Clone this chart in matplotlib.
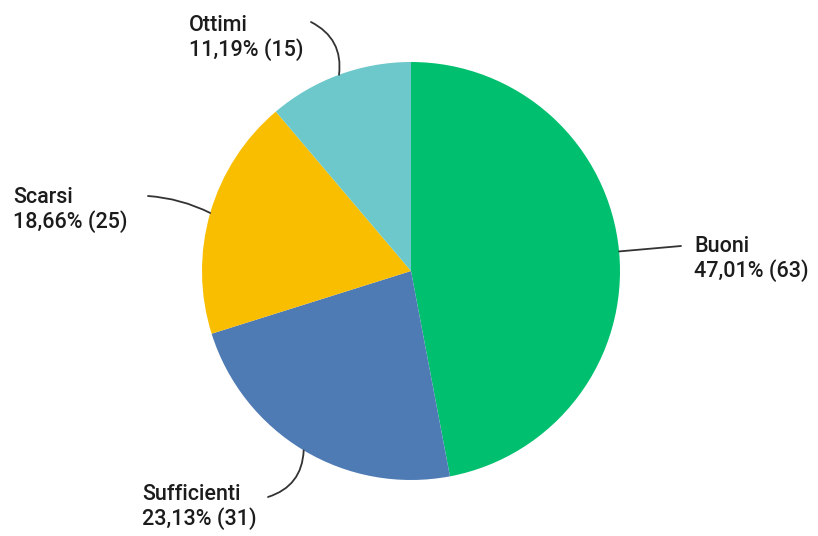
import numpy as np
import matplotlib
matplotlib.use("Agg")
import matplotlib.pyplot as plt
from matplotlib.patches import FancyArrowPatch

plt.rcParams['font.family'] = ['Roboto', 'DejaVu Sans']

# judgements and counts, clockwise from the top
labels = ["Buoni", "Sufficienti", "Scarsi", "Ottimi"]
counts = [63, 31, 25, 15]
colors = ["#00BF6F", "#4F7BB5", "#F9BE00", "#6CC8CB"]

W, H = 818, 536
cx, cy, R = 411, H - 271, 209

# where each label block starts (left edge, centre) and where its leader ends
label_pos = [(694, H - 259), (142, H - 507), (13, H - 210), (189, H - 38)]
line_end = [(681, H - 246), (268, H - 497), (148, H - 196), (311, H - 22)]
line_rad = [0.0, -0.35, 0.1, 0.35]

fig = plt.figure(figsize=(W / 100, H / 100), dpi=100)
ax = fig.add_axes([0, 0, 1, 1])

wedges, _ = ax.pie(counts, colors=colors, startangle=90, counterclock=False,
                   center=(cx, cy), radius=R, frame=True,
                   wedgeprops=dict(linewidth=0))

total = sum(counts)
for w, lab, n, pos, end, rad in zip(wedges, labels, counts, label_pos, line_end, line_rad):
    mid = np.deg2rad((w.theta1 + w.theta2) / 2)
    start = (cx + R * np.cos(mid), cy + R * np.sin(mid))
    ax.add_patch(FancyArrowPatch(start, end, arrowstyle='-', color='#333333',
                                 linewidth=1.3, shrinkA=0, shrinkB=0,
                                 connectionstyle=f"arc3,rad={rad}"))
    pct = f"{100 * n / total:.2f}".replace('.', ',')
    ax.text(pos[0], pos[1], f"{lab}\n{pct}% ({n})", ha='left', va='center',
            fontsize=15.5, fontweight='medium', color='#1c1c1c',
            linespacing=1.12)

ax.set_xlim(0, W)
ax.set_ylim(0, H)
ax.set_aspect('equal')
ax.axis('off')

fig.savefig("out.png", dpi=100, facecolor='white')
